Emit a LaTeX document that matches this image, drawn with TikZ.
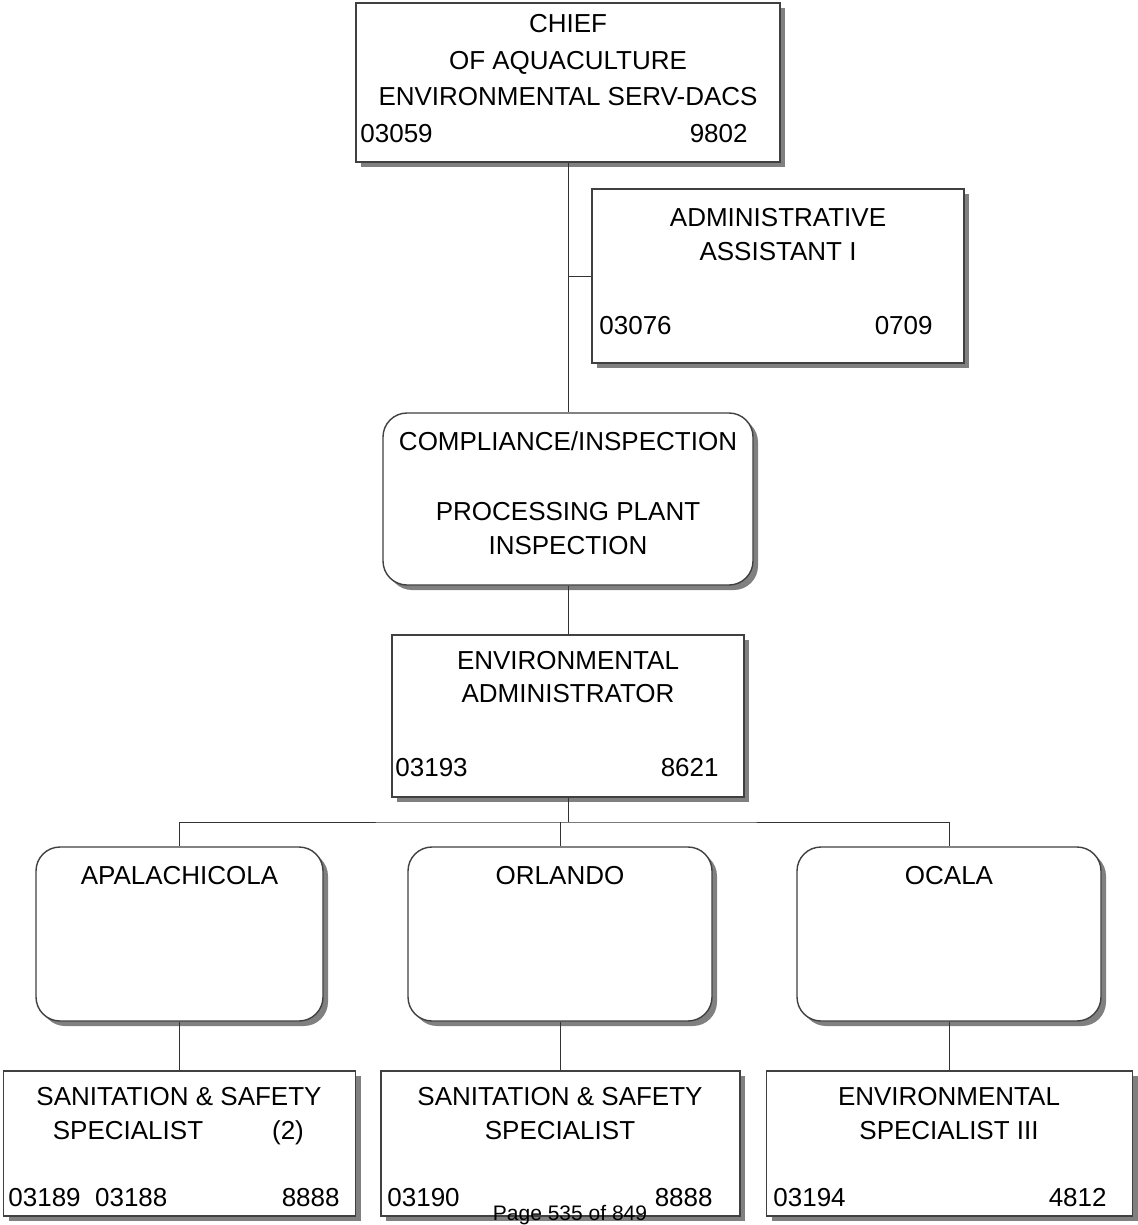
\documentclass[tikz,border=0pt]{standalone}
\usepackage{fontspec}
\setmainfont{Liberation Sans}
\usetikzlibrary{shadows}

\tikzset{
  jobbox/.style={rectangle, draw=black!75, line width=0.7pt, fill=white, inner sep=0pt,
    drop shadow={shadow xshift=2.5pt, shadow yshift=-2.5pt, fill=black!50, opacity=1}},
  unitbox/.style={jobbox, rounded corners=12pt},
  txt/.style={font=\fontsize{13}{15}\selectfont, inner sep=0pt, anchor=base},
  link/.style={draw=black!80, line width=0.5pt}
}

\begin{document}
\begin{tikzpicture}[x=0.5pt, y=-0.5pt]
\useasboundingbox (0,0) rectangle (1137,1225);
% Draw boxes
\node[jobbox, minimum width=212pt, minimum height=79.5pt] (chief) at (568,82.5) {};
\node[jobbox, minimum width=186pt, minimum height=87pt] (admin) at (778,276) {};
\node[unitbox, minimum width=185pt, minimum height=86pt] (comp) at (568,499) {};
\node[jobbox, minimum width=176pt, minimum height=81pt] (envadm) at (568,716) {};
\node[unitbox, minimum width=143.5pt, minimum height=87pt] (apal) at (179.5,934) {};
\node[unitbox, minimum width=152pt, minimum height=87pt] (orl) at (560,934) {};
\node[unitbox, minimum width=152pt, minimum height=87pt] (ocala) at (949,934) {};
\node[jobbox, minimum width=176pt, minimum height=72.5pt] (sanA) at (179.5,1143.5) {};
\node[jobbox, minimum width=179.5pt, minimum height=72.5pt] (sanB) at (560.5,1143.5) {};
\node[jobbox, minimum width=183pt, minimum height=72.5pt] (envspec) at (949.5,1143.5) {};
% Draw lines
\coordinate (tee) at (chief.south |- admin.west);
\coordinate (bus) at (568,822);
\draw[link] (chief.south) -- (comp.north);
\draw[link] (tee) -- (admin.west);
\draw[link] (comp.south) -- (envadm.north);
\draw[link] (envadm.south) -- (bus);
\draw[link] (apal.north) |- (bus) -| (ocala.north);
\draw[link] (orl.north) -- (orl.north |- bus);
\draw[link] (apal.south) -- (apal.south |- sanA.north);
\draw[link] (orl.south) -- (orl.south |- sanB.north);
\draw[link] (ocala.south) -- (ocala.south |- envspec.north);
% Draw labels
\node[txt] (chiefA) at (568,33) {CHIEF};
\node[txt] (chiefB) at (568,70) {OF AQUACULTURE};
\node[txt] (chiefC) at (568,106) {ENVIRONMENTAL SERV-DACS};
\node[txt, anchor=base west] (chiefL) at (360,143) {03059};
\node[txt, anchor=base east] (chiefR) at (748,143) {9802};
\node[txt] (adminA) at (778,227) {ADMINISTRATIVE};
\node[txt] (adminB) at (778,260) {ASSISTANT I};
\node[txt, anchor=base west] (adminL) at (599,334) {03076};
\node[txt, anchor=base east] (adminR) at (933,334) {0709};
\node[txt] (compA) at (568,450) {COMPLIANCE/INSPECTION};
\node[txt] (compB) at (568,520) {PROCESSING PLANT};
\node[txt] (compC) at (568,554) {INSPECTION};
\node[txt] (envadmA) at (568,669) {ENVIRONMENTAL};
\node[txt] (envadmB) at (568,702) {ADMINISTRATOR};
\node[txt, anchor=base west] (envadmL) at (395,776) {03193};
\node[txt, anchor=base east] (envadmR) at (719,776) {8621};
\node[txt] (apalA) at (179.5,884) {APALACHICOLA};
\node[txt] (orlA) at (560,884) {ORLANDO};
\node[txt] (ocalaA) at (949,884) {OCALA};
\node[txt] (sanAa) at (179,1105) {SANITATION \& SAFETY};
\node[txt] (sanAb) at (128,1139) {SPECIALIST};
\node[txt] (sanAc) at (288,1139) {(2)};
\node[txt, anchor=base west] (sanAL) at (8,1206) {03189\ \ 03188};
\node[txt, anchor=base east] (sanAR) at (340,1206) {8888};
\node[txt] (sanBa) at (560,1105) {SANITATION \& SAFETY};
\node[txt] (sanBb) at (560,1139) {SPECIALIST};
\node[txt, anchor=base west] (sanBL) at (387,1206) {03190};
\node[txt, anchor=base east] (sanBR) at (713,1206) {8888};
\node[txt] (envspecA) at (949,1105) {ENVIRONMENTAL};
\node[txt] (envspecB) at (949,1139) {SPECIALIST III};
\node[txt, anchor=base west] (envspecL) at (773,1206) {03194};
\node[txt, anchor=base east] (envspecR) at (1107,1206) {4812};
\node[txt, font=\fontsize{10.5}{12}\selectfont] (page) at (570,1220) {Page 535 of 849};
\end{tikzpicture}
\end{document}
